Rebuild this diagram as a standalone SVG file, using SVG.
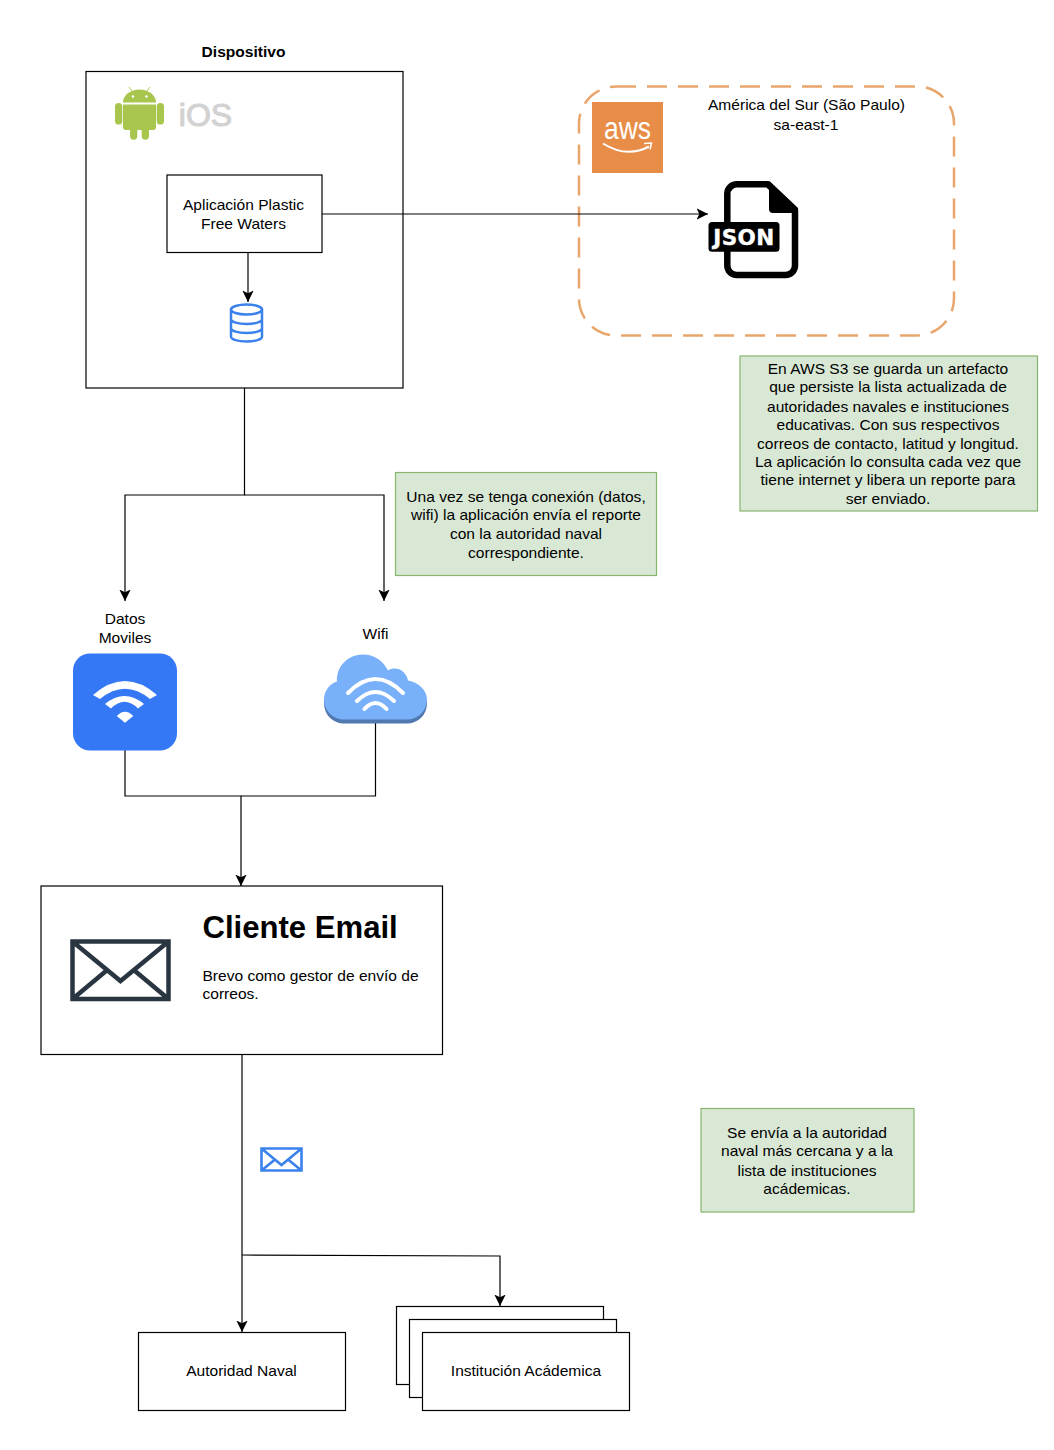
<svg xmlns="http://www.w3.org/2000/svg" width="1054" height="1450" viewBox="0 0 1054 1450">
<style>
text{font-family:"Liberation Sans",Arial,sans-serif;font-size:15.55px;fill:#000;text-anchor:middle}
.box{fill:#fff;stroke:#000;stroke-width:1.2}
.note{fill:#d9e8d5;stroke:#88b56c;stroke-width:1.2}
.c{fill:none;stroke:#000;stroke-width:1.2}
.w{fill:none;stroke:#fff;stroke-linecap:round;stroke-width:4}
</style>
<defs>
<marker id="a" markerWidth="13" markerHeight="13" refX="11.500" refY="6" orient="auto" markerUnits="userSpaceOnUse"><path d="M0 0.300L11.500 6L0 11.700L2.800 6Z" fill="#000"/></marker>
</defs>
<rect width="1054" height="1450" fill="#fff"/>
<g id="dispositivo">
<text x="243.500" y="57" font-weight="bold">Dispositivo</text>
<rect class="box" x="86" y="71.500" width="317" height="316.500"/>
</g>
<g id="android">
<g fill="#a8c64e">
<path d="M123 102.500a16.500 13 0 0 1 33 0Z"/>
<path d="M123 104.500h33V127a3 3 0 0 1-3 3h-4v6a3.600 3.600 0 0 1-7.300 0v-6h-4.400v6a3.600 3.600 0 0 1-7.300 0v-6h-4a3 3 0 0 1-3-3Z"/>
<rect x="115" y="103" width="7.300" height="21.500" rx="3.600"/>
<rect x="156.700" y="103" width="7.300" height="21.500" rx="3.600"/>
<path d="M132 91l-3-4M147 91l3-4" stroke="#a8c64e" stroke-width="0.900"/>
</g>
<circle cx="133" cy="96.500" r="1.200" fill="#fff"/><circle cx="146.500" cy="96.500" r="1.200" fill="#fff"/>
<text x="205.500" y="126" style="font-size:32px;fill:#d2d2d2;stroke:#d2d2d2;stroke-width:1.100">iOS</text>
</g>
<g id="aws-region">
<rect x="579" y="86.500" width="375" height="249" rx="37" fill="none" stroke="#e9a66c" stroke-width="2.500" stroke-dasharray="20 11"/>
<text x="806.500" y="110">América del Sur (São Paulo)</text>
<text x="806" y="130">sa-east-1</text>
</g>
<g id="aws-logo">
<rect x="592" y="102" width="71" height="71" fill="#e78d47"/>
<text x="627.500" y="138.500" textLength="47" lengthAdjust="spacingAndGlyphs" style="font-size:31px;fill:#fff">aws</text>
<path d="M603 143.500q24 15 46 3" fill="none" stroke="#fff" stroke-width="2"/>
<path d="M644 143.500l7.500-.5-1.500 6.500" fill="none" stroke="#fff" stroke-width="1.500"/>
</g>
<g id="json">
<path d="M736.800 184.300h31L795 210v55.500a9.500 9.500 0 0 1-9.500 9.500h-48.700a9.500 9.500 0 0 1-9.500-9.500V193.800a9.500 9.500 0 0 1 9.500-9.500Z" fill="#fff" stroke="#000" stroke-width="6.500" stroke-linejoin="round"/>
<path d="M766 181.500h4L798 208v5h-25a4 4 0 0 1-4-4v-24Z" fill="#000"/>
<rect x="708.500" y="222" width="71" height="29.700" rx="3.500" fill="#000"/>
<text x="744" y="245" style="font-family:'DejaVu Sans',sans-serif;font-size:21.500px;font-weight:bold;fill:#fff;stroke:#fff;stroke-width:.4;letter-spacing:.4px">JSON</text>
</g>
<g id="app">
<rect class="box" x="167" y="175" width="155" height="77.500"/>
<text x="243.500" y="210">Aplicación Plastic</text>
<text x="243.500" y="229">Free Waters</text>
</g>
<g id="database" fill="none" stroke="#3b82ec" stroke-width="2.500">
<ellipse cx="246.500" cy="309.500" rx="15.500" ry="5"/>
<path d="M231 309.500v27c0 3 7 5 15.500 5s15.500-2 15.500-5v-27M231 319c0 3 7 5 15.500 5s15.500-2 15.500-5M231 328c0 3 7 5 15.500 5s15.500-2 15.500-5"/>
</g>
<g id="connectors">
<path class="c" d="M322 214H708" marker-end="url(#a)"/>
<path class="c" d="M248 252.500V302" marker-end="url(#a)"/>
<path class="c" d="M244.500 388V495H125V601" marker-end="url(#a)"/>
<path class="c" d="M244.500 495H384V601" marker-end="url(#a)"/>
<path class="c" d="M125 750V796H241V886" marker-end="url(#a)"/>
<path class="c" d="M375.500 723V796H241"/>
<path class="c" d="M242 1054.500V1332" marker-end="url(#a)"/>
<path class="c" d="M242 1255L500 1256V1306" marker-end="url(#a)"/>
</g>
<g id="note-s3">
<rect class="note" x="740" y="356" width="297.500" height="155"/>
<text x="888" y="374">En AWS S3 se guarda un artefacto</text>
<text x="888" y="392">que persiste la lista actualizada de</text>
<text x="888" y="412">autoridades navales e instituciones</text>
<text x="888" y="430">educativas. Con sus respectivos</text>
<text x="888" y="449">correos de contacto, latitud y longitud.</text>
<text x="888" y="467">La aplicación lo consulta cada vez que</text>
<text x="888" y="485">tiene internet y libera un reporte para</text>
<text x="888" y="504">ser enviado.</text>
</g>
<g id="note-conexion">
<rect class="note" x="395.500" y="472.500" width="261" height="103"/>
<text x="526" y="502">Una vez se tenga conexión (datos,</text>
<text x="526" y="520">wifi) la aplicación envía el reporte</text>
<text x="526" y="539">con la autoridad naval</text>
<text x="526" y="558">correspondiente.</text>
</g>
<g id="datos-moviles">
<text x="125" y="624">Datos</text>
<text x="125" y="643">Moviles</text>
<rect x="73" y="653.500" width="104" height="97" rx="17" fill="#3578f6"/>
<path d="M93 695Q125 667 157 695L150 699Q125 678.500 100 699Z" fill="#fff"/>
<path d="M105 704Q124.500 688 144 704L138 708.500Q124.500 695 111 708.500Z" fill="#fff"/>
<path d="M116.700 716Q125 707.500 133.300 716L125 722.700Z" fill="#fff"/>
</g>
<g id="wifi">
<text x="375.500" y="639">Wifi</text>
<path d="M344 723.500a20 20 0 0 1-20-20c0-9 6-16 13-18c-1-15 11-27 26-27c11 0 20 6 25 16c8-5 18 0 20 10c11 2 19 10 19 19a20 20 0 0 1-20 20Z" fill="#5079b0"/>
<path d="M344 719.500a20 20 0 0 1-20-20c0-9 6-16 13-18c-1-15 11-27 26-27c11 0 20 6 25 16c8-5 18 0 20 10c11 2 19 10 19 19a20 20 0 0 1-20 20Z" fill="#79b0fa"/>
<g class="w">
<path d="M348 693q27.500-28 55 0"/>
<path d="M357 701q18.500-18 37 0"/>
<path d="M364.500 709q11-12 22 0"/>
</g>
</g>
<g id="cliente-email">
<rect class="box" x="41" y="886" width="401.500" height="168.500"/>
<path d="M72.500 941.500h96v57.500h-96ZM72.500 941.500L120.500 981L168.500 941.500M72.500 999L106 971M168.500 999L135 971" fill="none" stroke="#2a3542" stroke-width="4.500"/>
<text x="202.500" y="938" style="font-size:31.100px;font-weight:bold;text-anchor:start">Cliente Email</text>
<text x="202.500" y="981" style="text-anchor:start">Brevo como gestor de envío de</text>
<text x="202.500" y="999" style="text-anchor:start">correos.</text>
</g>
<g id="mail-icon">
<path d="M261.500 1148.500h40v22h-40ZM261.500 1148.500L281.500 1165L301.500 1148.500M261.500 1170.500L275 1159.500M301.500 1170.500L288 1159.500" fill="#fff" stroke="#3b82ec" stroke-width="2.600"/>
</g>
<g id="note-envio">
<rect class="note" x="701" y="1108.500" width="213" height="103.500"/>
<text x="807" y="1138">Se envía a la autoridad</text>
<text x="807" y="1156">naval más cercana y a la</text>
<text x="807" y="1176">lista de instituciones</text>
<text x="807" y="1194">acádemicas.</text>
</g>
<g id="autoridad">
<rect class="box" x="138.500" y="1332.500" width="207" height="78"/>
<text x="241.500" y="1376">Autoridad Naval</text>
</g>
<g id="institucion">
<rect class="box" x="396.500" y="1306.500" width="207" height="78"/>
<rect class="box" x="409.500" y="1319.500" width="207" height="78"/>
<rect class="box" x="422.500" y="1332.500" width="207" height="78"/>
<text x="526" y="1376">Institución Acádemica</text>
</g>
</svg>
